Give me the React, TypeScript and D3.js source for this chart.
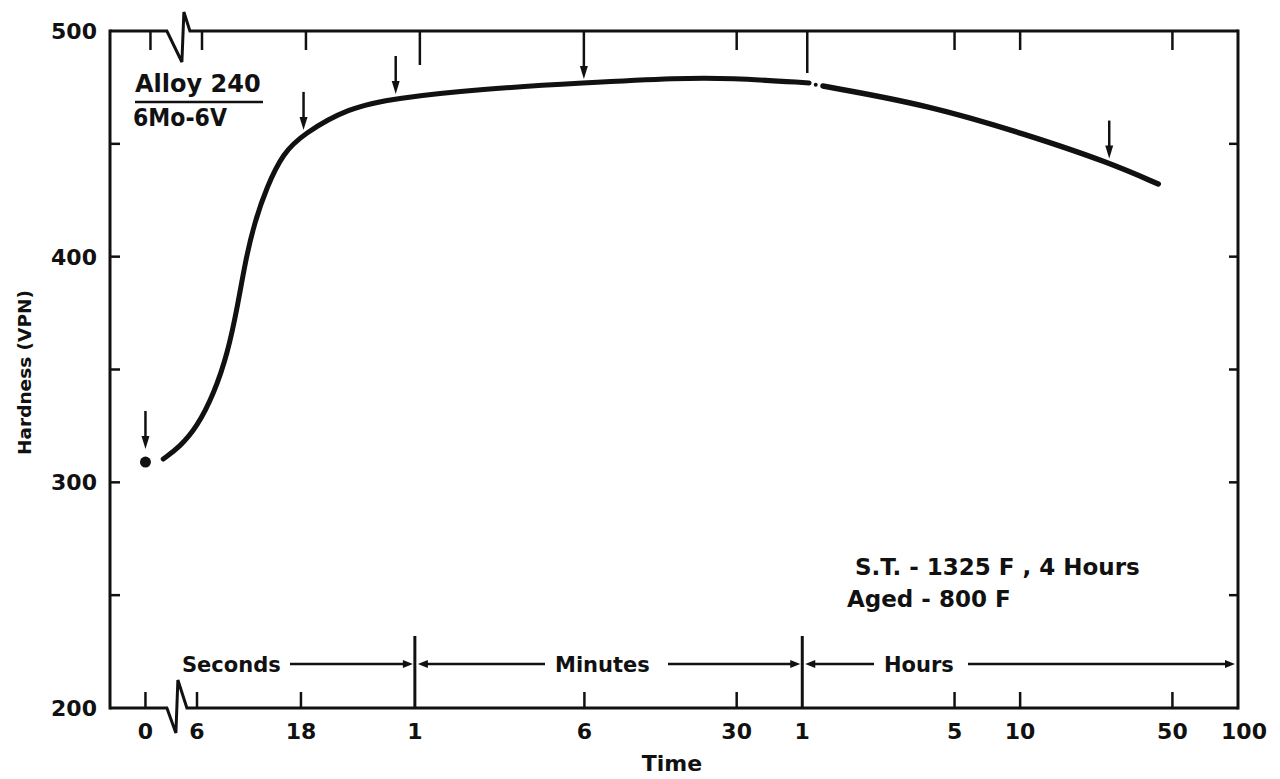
import React from 'react';
import * as d3 from 'd3';

// ---- data (time in seconds, hardness in VPN) ----
const TIME_A = [4.2, 5.0, 6.0, 7.2, 8.3, 9.2, 10.0, 11.0, 12.55, 14.9, 18.5, 29.5, 49, 120, 358, 998, 1640, 3870];
const HARD_A = [310.3, 315.7, 324.5, 339.6, 357.3, 377.7, 398.0, 414.9, 430.9, 445.9, 454.4, 465.9, 470.3, 474.3, 477, 479.2, 479.2, 477];
const TIME_B = [4480, 13600, 39200, 92300, 155000];
const HARD_B = [475.6, 467.2, 453.9, 441.7, 432.2];
const GAP_DOT = [4150, 476.2];

// as-quenched point (time zero, placed on the broken part of the axis)
const ZERO_T = 3.48;
const ZERO_H = 309;
const BREAK_T = 4.8;

// arrows marking sampled points on the curve
const ARROW_T = [18.5, 49, 358, 92300];
const ARROW_H = [454.4, 470.3, 477, 441.7];

// x tick values and labels
const XTICK_T = [ZERO_T, 6, 18, 60, 360, 1800, 3600, 18000, 36000, 180000, 360000];
const XTICK_LABELS = ['0', '6', '18', '1', '6', '30', '1', '5', '10', '50', '100'];
const UNIT_BOUNDS = [60, 3600];

const YTICKS = [200, 300, 400, 500];
const YMINOR = [250, 300, 350, 400, 450];

const W = 1280;
const H = 779;
const LEFT = 110;
const RIGHT = 1238;
const TOP = 31;
const BOTTOM = 708;

const x = d3.scaleLog().domain([6, 360000]).range([197, RIGHT]);
const y = d3.scaleLinear().domain([200, 500]).range([BOTTOM, TOP]);

const FONT = '"DejaVu Sans", sans-serif';
const INK = '#111';

function headRight(px: number, py: number) {
  return `M${px},${py} L${px - 10},${py - 4} L${px - 10},${py + 4} Z`;
}
function headLeft(px: number, py: number) {
  return `M${px},${py} L${px + 10},${py - 4} L${px + 10},${py + 4} Z`;
}

export default function App() {
  const line = d3
    .line<[number, number]>()
    .x((d) => x(d[0]))
    .y((d) => y(d[1]))
    .curve(d3.curveBasis);

  const segA = TIME_A.map((t, i) => [t, HARD_A[i]] as [number, number]);
  const segB = TIME_B.map((t, i) => [t, HARD_B[i]] as [number, number]);

  const bx = x(BREAK_T);
  const bottomAxis = `M${LEFT},${BOTTOM} L${bx - 9},${BOTTOM} L${bx},${BOTTOM + 25} L${bx + 2},${BOTTOM - 28} L${bx + 11},${BOTTOM} L${RIGHT},${BOTTOM}`;
  const tb = bx + 5;
  const topAxis = `M${LEFT},${TOP} L${tb - 14},${TOP} L${tb + 1},${TOP + 31} L${tb + 3},${TOP - 19} L${tb + 9},${TOP} L${RIGHT},${TOP}`;

  const secY = 664;
  const x1m = x(60);
  const x1h = x(3600);

  return (
    <svg width={W} height={H} style={{ position: 'absolute', left: 0, top: 0, background: '#fff' }}>
      <rect x={0} y={0} width={W} height={H} fill="#fff" />
      {/* frame */}
      <path d={topAxis} fill="none" stroke={INK} strokeWidth={3} strokeLinejoin="miter" />
      <path d={bottomAxis} fill="none" stroke={INK} strokeWidth={3} strokeLinejoin="miter" />
      <line x1={LEFT} y1={TOP - 1.5} x2={LEFT} y2={BOTTOM + 1.5} stroke={INK} strokeWidth={3} />
      <line x1={RIGHT} y1={TOP - 1.5} x2={RIGHT} y2={BOTTOM + 1.5} stroke={INK} strokeWidth={3} />

      {/* y ticks */}
      {YMINOR.map((v) => (
        <g key={'ym' + v}>
          <line x1={LEFT} x2={LEFT + 10} y1={y(v)} y2={y(v)} stroke={INK} strokeWidth={2.5} />
          <line x1={RIGHT - 9} x2={RIGHT} y1={y(v)} y2={y(v)} stroke={INK} strokeWidth={2.5} />
        </g>
      ))}
      {YTICKS.map((v) => (
        <text key={'yl' + v} x={97} y={y(v)} dy="0.36em" textAnchor="end" fontFamily={FONT} fontWeight="bold" fontSize={22} fill={INK}>
          {v}
        </text>
      ))}
      <text
        transform={`translate(24,${(TOP + BOTTOM) / 2 + 3}) rotate(-90)`}
        textAnchor="middle"
        dy="0.36em"
        fontFamily={FONT}
        fontWeight="bold"
        fontSize={18.5}
        fill={INK}
      >
        Hardness (VPN)
      </text>

      {/* x ticks */}
      {XTICK_T.map((t, i) => {
        const px = x(t);
        const isBound = UNIT_BOUNDS.includes(t);
        const isLast = i === XTICK_T.length - 1;
        const skew = t <= 60 || t === 3600 ? 5 : 0;
        return (
          <g key={'xt' + i}>
            {!isLast && t !== 360 && (
              <line x1={px + skew} x2={px + skew} y1={TOP} y2={TOP + (isBound ? (t === 60 ? 34 : 42) : 19)} stroke={INK} strokeWidth={2.5} />
            )}
            {!isLast && (
              <line x1={px} x2={px} y1={BOTTOM} y2={isBound ? 636 : BOTTOM - 16} stroke={INK} strokeWidth={isBound ? 3 : 2.5} />
            )}
            <text x={isLast ? px + 6 : px} y={739} textAnchor="middle" fontFamily={FONT} fontWeight="bold" fontSize={22} fill={INK}>
              {XTICK_LABELS[i]}
            </text>
          </g>
        );
      })}
      <text x={672} y={771} textAnchor="middle" fontFamily={FONT} fontWeight="bold" fontSize={22} fill={INK}>
        Time
      </text>

      {/* unit section arrows */}
      <g stroke={INK} strokeWidth={2.5} fill={INK}>
        <text x={182} y={secY + 8} fontFamily={FONT} fontWeight="bold" fontSize={21} stroke="none">Seconds</text>
        <line x1={290} x2={x1m - 8} y1={secY} y2={secY} />
        <path d={headRight(x1m - 2, secY)} stroke="none" />
        <path d={headLeft(x1m + 3, secY)} stroke="none" />
        <line x1={x1m + 8} x2={545} y1={secY} y2={secY} />
        <text x={555} y={secY + 8} fontFamily={FONT} fontWeight="bold" fontSize={21} stroke="none">Minutes</text>
        <line x1={668} x2={x1h - 8} y1={secY} y2={secY} />
        <path d={headRight(x1h - 2, secY)} stroke="none" />
        <path d={headLeft(x1h + 3, secY)} stroke="none" />
        <line x1={x1h + 8} x2={874} y1={secY} y2={secY} />
        <text x={884} y={secY + 8} fontFamily={FONT} fontWeight="bold" fontSize={21} stroke="none">Hours</text>
        <line x1={968} x2={RIGHT - 10} y1={secY} y2={secY} />
        <path d={headRight(RIGHT - 3, secY)} stroke="none" />
      </g>

      {/* curve */}
      <path d={line(segA) || ''} fill="none" stroke={INK} strokeWidth={5} strokeLinecap="round" />
      <path d={line(segB) || ''} fill="none" stroke={INK} strokeWidth={5.5} strokeLinecap="round" />
      <circle cx={x(GAP_DOT[0])} cy={y(GAP_DOT[1])} r={2} fill={INK} />

      {/* as-quenched point */}
      <circle cx={x(ZERO_T)} cy={y(ZERO_H)} r={5.5} fill={INK} />

      {/* arrows */}
      {[[ZERO_T, ZERO_H + 4] as [number, number]].concat(ARROW_T.map((t, i) => [t, ARROW_H[i]] as [number, number])).map(([t, h], i) => {
        const px = x(t);
        const tip = y(h) - 4;
        const len = t === 358 ? tip - TOP : 38;
        return (
          <g key={'ar' + i}>
            <line x1={px} x2={px} y1={tip - len} y2={tip - 8} stroke={INK} strokeWidth={2.5} />
            <path d={`M${px},${tip} L${px - 4},${tip - 13} L${px + 4},${tip - 13} Z`} fill={INK} />
          </g>
        );
      })}

      {/* legend */}
      <text x={135} y={92} fontFamily={FONT} fontWeight="bold" fontSize={24} fill={INK}>Alloy 240</text>
      <line x1={135} x2={263} y1={102} y2={102} stroke={INK} strokeWidth={2.5} />
      <text x={133} y={126} fontFamily={FONT} fontWeight="bold" fontSize={24} fill={INK} textLength={94} lengthAdjust="spacingAndGlyphs">6Mo-6V</text>

      {/* conditions */}
      <text x={855} y={575} fontFamily={FONT} fontWeight="bold" fontSize={23} fill={INK}>S.T. - 1325 F , 4 Hours</text>
      <text x={847} y={607} fontFamily={FONT} fontWeight="bold" fontSize={23} fill={INK}>Aged - 800 F</text>
    </svg>
  );
}
